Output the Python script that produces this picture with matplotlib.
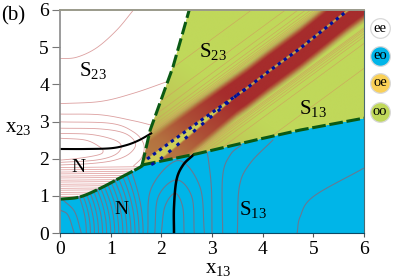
import matplotlib
matplotlib.use('Agg')
import matplotlib.pyplot as plt
import matplotlib.patches as patches
from matplotlib.colors import LinearSegmentedColormap
import numpy as np

plt.rcParams['font.family'] = ['Liberation Serif', 'DejaVu Serif']
plt.rcParams['mathtext.fontset'] = 'custom'
plt.rcParams['mathtext.rm'] = 'Liberation Serif'
plt.rcParams['mathtext.it'] = 'Liberation Serif'

# fronteiras entre as regioes
front_n_x = [0, 0.39, 0.79, 1.18, 1.58, 1.62]
front_n_y = [0.91, 0.97, 1.2, 1.48, 1.77, 1.83]
front_esq_x = [1.62, 1.78, 2.23, 2.55]
front_esq_y = [1.83, 2.77, 4.47, 6]
front_dir_x = [1.62, 2.7, 3.95, 4.74, 6]
front_dir_y = [1.83, 2.13, 2.53, 2.77, 3.09]

# curvas pretas
preta1_x = [0, 0.5, 1.0, 1.3, 1.55, 1.8]
preta1_y = [2.26, 2.26, 2.28, 2.36, 2.49, 2.68]
preta2_x = [2.25, 2.25, 2.3, 2.43, 2.63]
preta2_y = [0, 0.7, 1.43, 1.83, 2.1]

# duas fileiras de pontos azuis
fila_sup_x = [1.72, 2.74, 3.69, 4.1, 4.74, 5.66]
fila_sup_y = [1.99, 2.99, 3.9, 4.33, 4.97, 5.97]
fila_inf_x = [1.8, 1.91, 2.6, 3.49, 3.69]
fila_inf_y = [1.84, 1.91, 2.69, 3.71, 3.9]

# perfil da faixa vermelha: distancia a faixa central -> cor
perfil_t = [0, 0.015, 0.05, 0.42, 0.5, 0.58, 0.68, 1.0]
perfil_cor = ['#cfcf58', '#c09048', '#a62c2c', '#a62c2c', '#b0603a', '#b8a055', '#c0d85a', '#c0d85a']
# a faixa perde forca perto do vertice da cunha
fade_s = [3.4, 4.5, 5.5, 7.0, 12]
fade_w = [0.75, 0.6, 0.3, 0.0, 0.0]

# niveis x13 - x23 das linhas na regiao oo
niveis_oo = [-2.22, -1.55, -1.3, -1.15, -1.05, -0.98, -0.93, -0.89,
             0.48, 0.52, 0.57, 0.64, 0.72, 0.9, 1.57]

# linhas na regiao branca
branco_curvas = [
    ([0, 0.33, 0.72, 1.12, 1.45], [4.69, 4.73, 4.98, 5.46, 6]),
    ([0, 0.8, 1.45, 2.13], [3.48, 3.54, 3.76, 4.08]),
    ([0, 0.8, 1.45, 1.81], [3.2, 3.18, 3.02, 2.9]),
    ([0, 1.0, 1.45, 1.65, 1.62, 1.45], [2.99, 2.95, 2.72, 2.4, 2.05, 1.8]),
    ([0, 0.8, 1.28, 1.49, 1.375, 1.08, 0.62, 0], [2.82, 2.8, 2.68, 2.41, 2.14, 1.96, 1.87, 1.83]),
    ([0, 0.62, 1.08, 1.21, 1.08, 0.7, 0], [2.68, 2.65, 2.5, 2.32, 2.1, 1.96, 1.9]),
    ([0, 0.5, 0.78, 0.85, 0.75, 0.37, 0], [2.55, 2.5, 2.32, 2.19, 2.1, 2.01, 1.96]),
]
branco_horiz = [1.76, 1.70, 1.64, 1.59, 1.53, 1.48, 1.42, 1.37, 1.31, 1.26, 1.20, 1.15, 1.09, 1.04, 0.98]

# linhas na regiao azul
azul_curvas = [
    ([0, 0.158, 0.28], [0.62, 0.48, 0]),
    ([0.06, 0.29, 0.42], [0.89, 0.57, 0]),
    ([2.0, 2.07, 2.27, 2.42, 2.45], [0, 0.71, 1.07, 0.71, 0]),
    ([1.87, 1.94, 2.3, 2.6, 2.65], [0, 0.98, 1.43, 0.98, 0]),
    ([1.73, 1.8, 2.33, 2.76, 2.85], [0, 1.2, 1.95, 1.25, 0]),
    ([3.0, 2.99, 2.93, 2.88], [0, 1.16, 1.96, 2.3]),
    ([3.21, 3.21, 3.36, 3.58], [0, 1.52, 2.1, 2.37]),
    ([3.5, 3.54, 3.75, 4.2], [0, 1.25, 1.87, 2.5]),
    ([4.68, 4.74, 5.0, 5.99], [0, 0.44, 0.98, 1.74]),
]
# linhas quase verticais: base em x13 e x13 no alto (x23 = 2.2)
azul_base = [0.52, 0.6, 0.68, 0.76, 0.84, 0.92, 1.0, 1.08, 1.16, 1.24, 1.32, 1.4, 1.48, 1.56, 1.64]
azul_topo = [-0.2, -0.1, -0.02, 0.07, 0.16, 0.25, 0.34, 0.44, 0.54, 0.64, 0.74, 0.85, 0.97, 1.09, 1.23]

ticks = [0, 1, 2, 3, 4, 5, 6]
legenda_nomes = ['ee', 'eo', 'oe', 'oo']
legenda_cores = ['#ffffff', '#00b5e8', '#f9d057', '#c0d85a']


def suave(xs, ys, n=14):
    # catmull-rom so para arredondar as curvas lidas
    p = np.column_stack([xs, ys]).astype(float)
    p = np.vstack([2 * p[0] - p[1], p, 2 * p[-1] - p[-2]])
    saida = []
    for i in range(1, len(p) - 2):
        t = np.linspace(0, 1, n, endpoint=False)[:, None]
        saida.append(0.5 * (2 * p[i] + (p[i + 1] - p[i - 1]) * t
                            + (2 * p[i - 1] - 5 * p[i] + 4 * p[i + 1] - p[i + 2]) * t ** 2
                            + (3 * p[i] - p[i - 1] - 3 * p[i + 1] + p[i + 2]) * t ** 3))
    saida.append(p[-2][None, :])
    saida = np.vstack(saida)
    return saida[:, 0], saida[:, 1]


fig = plt.figure(figsize=(4, 2.8), dpi=100)
ax = fig.add_axes([60 / 400, 47 / 280, 304 / 400, 223 / 280])
ax.set_xlim(0, 6)
ax.set_ylim(0, 6)

nx, ny = suave(front_n_x, front_n_y)
ex, ey = front_esq_x, front_esq_y
dx, dy = front_dir_x, front_dir_y

# regioes
poly_branco = list(zip(nx, ny)) + list(zip(ex, ey)) + [(0, 6)]
poly_azul = [(0, 0), (6, 0)] + list(zip(dx[::-1], dy[::-1])) + list(zip(nx[::-1], ny[::-1]))
poly_verde = list(zip(dx, dy)) + [(6, 6)] + list(zip(ex[::-1], ey[::-1]))

p_branco = patches.Polygon(poly_branco, fc='white', ec='none', zorder=1)
p_azul = patches.Polygon(poly_azul, fc='#00b5e8', ec='none', zorder=1)
p_verde = patches.Polygon(poly_verde, fc='#c0d85a', ec='none', zorder=1)
ax.add_patch(p_branco)
ax.add_patch(p_azul)
ax.add_patch(p_verde)

# faixa vermelha
mapa = LinearSegmentedColormap.from_list('faixa', list(zip(np.array(perfil_t), perfil_cor)))
gx, gy = np.meshgrid(np.linspace(0, 6, 500), np.linspace(0, 6, 500))
d = gx - gy
sup = np.interp(gx, fila_sup_x, np.array(fila_sup_x) - np.array(fila_sup_y))
inf = np.interp(gx, fila_inf_x, np.array(fila_inf_x) - np.array(fila_inf_y))
inf = np.where(gx > fila_inf_x[-1], sup, np.maximum(inf, sup))
dist = np.maximum(np.maximum(sup - d, d - inf), 0)
rgb = mapa(np.clip(dist, 0, 1))[:, :, :3]
w = np.interp(gx + gy, fade_s, fade_w)[:, :, None]
w = w * (dist > 0)[:, :, None]
rgb = rgb * (1 - w) + np.array([0.74, 0.62, 0.30]) * w
img = ax.imshow(rgb, extent=(0, 6, 0, 6), origin='lower', aspect='auto', zorder=2, interpolation='bilinear')
img.set_clip_path(p_verde)

# linhas da regiao oo
for nivel in niveis_oo:
    lx = np.array([0, 8.0])
    ln, = ax.plot(lx, lx - nivel, color='#cfa25e', lw=0.4, zorder=3)
    ln.set_clip_path(p_verde)

# linhas da regiao branca
for xs, ys in branco_curvas:
    cx, cy = suave(xs, ys)
    ln, = ax.plot(cx, cy, color='#dc9f9f', lw=0.6, zorder=3)
    ln.set_clip_path(p_branco)
for nivel in branco_horiz:
    ln, = ax.plot([0, 2], [nivel, nivel + 0.03], color='#e3a6a6', lw=0.6, zorder=3)
    ln.set_clip_path(p_branco)

# linhas da regiao azul
cor_azul = '#667a92'
for xs, ys in azul_curvas:
    cx, cy = suave(xs, ys)
    ln, = ax.plot(cx, cy, color=cor_azul, lw=0.8, zorder=3)
    ln.set_clip_path(p_azul)
for b, t in zip(azul_base, azul_topo):
    s = np.linspace(0, 1, 30)
    cx = (1 - s) ** 2 * b + 2 * s * (1 - s) * b + s ** 2 * t
    cy = 2 * s * (1 - s) * 1.1 + s ** 2 * 2.2
    ax.plot(cx, np.minimum(cy, np.interp(cx, nx, ny)), color=cor_azul, lw=0.8, zorder=3)

# curvas pretas
cx, cy = suave(preta1_x, preta1_y)
ax.plot(cx, cy, color='black', lw=1.5, zorder=5)
cx, cy = suave(preta2_x, preta2_y)
ax.plot(cx, cy, color='black', lw=1.8, zorder=5)

# fronteiras tracejadas
verde = '#0b5a14'
ax.plot(nx, ny, color=verde, lw=2.2, zorder=6, dashes=(6, 0.6))
ax.plot(ex, ey, color=verde, lw=2.2, zorder=6, dashes=(4.2, 1.4))
ax.plot(dx, dy, color=verde, lw=2.2, zorder=6, dashes=(4.5, 1.2))

# pontos azuis
ax.plot(fila_sup_x, fila_sup_y, color='#00109a', lw=2.2, zorder=7, dashes=(1.1, 1.3))
ax.plot(fila_inf_x, fila_inf_y, color='#00109a', lw=2.2, zorder=7, dashes=(1.1, 2.4))

# textos das regioes
fs = 15
ax.text(0.65, 4.36, r'$\mathrm{S}_{23}$', fontsize=fs, ha='center', va='center', zorder=8)
ax.text(3.02, 4.87, r'$\mathrm{S}_{23}$', fontsize=fs, ha='center', va='center', zorder=8)
ax.text(5.0, 3.36, r'$\mathrm{S}_{13}$', fontsize=fs, ha='center', va='center', zorder=8)
ax.text(3.81, 0.62, r'$\mathrm{S}_{13}$', fontsize=fs, ha='center', va='center', zorder=8)
ax.text(0.37, 1.75, 'N', fontsize=14, ha='center', va='center', zorder=8)
ax.text(1.22, 0.62, 'N', fontsize=14, ha='center', va='center', zorder=8)

# eixos
ax.set_xticks(ticks)
ax.set_yticks(ticks)
ax.tick_params(axis='x', length=3, width=0.8, color='#555555', labelsize=14, pad=3)
ax.tick_params(axis='y', length=6, width=0.8, color='#777777', labelsize=14, pad=2)
ax.spines['left'].set_color('#8a8a8a')
ax.spines['top'].set_color('#9a9a8a')
ax.spines['top'].set_linewidth(1.4)
ax.spines['left'].set_linewidth(1.2)
ax.spines['bottom'].set_color('#0b4a66')
ax.spines['right'].set_color('#4a6a70')
for sp in ax.spines.values():
    sp.set_zorder(9)

fig.text(218 / 400, 1 - 268 / 280, r'$\mathrm{x}_{13}$', fontsize=15, ha='center', va='center')
fig.text(18 / 400, 1 - 128 / 280, r'$\mathrm{x}_{23}$', fontsize=15, ha='center', va='center')
fig.text(1 / 400, 1 - 16 / 280, '(b)', fontsize=15, ha='left', va='center')

# legenda das cores
ly = [0.919, 0.794, 0.673, 0.543]
for y, nome, cor in zip(ly, legenda_nomes, legenda_cores):
    ax.scatter([1.053], [y], s=200, c=cor, edgecolors='#d8d8d8', linewidths=0.9,
               transform=ax.transAxes, clip_on=False, zorder=10)
    ax.text(1.053, y, nome, transform=ax.transAxes, fontsize=10.5, ha='center', va='center', zorder=11)

fig.savefig('out.png', dpi=100)
